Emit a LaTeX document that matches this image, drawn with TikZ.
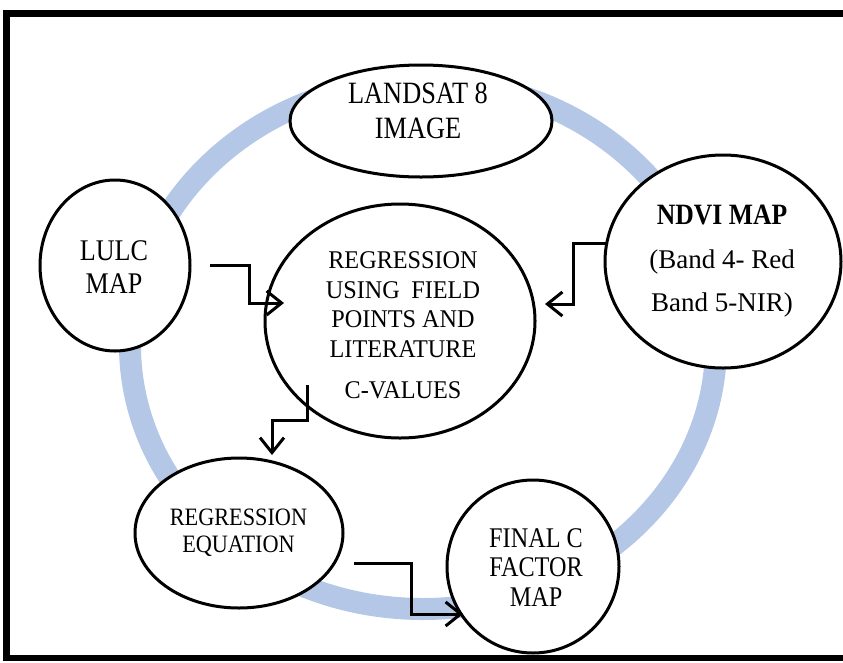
\documentclass[tikz,border=0pt]{standalone}
\usepackage{fontspec}
\setmainfont{Liberation Serif}
\newfontfamily\fA{Liberation Serif}[FakeStretch=0.85]
\newfontfamily\fB{Liberation Serif}[FakeStretch=0.95]
\newfontfamily\fC{Liberation Serif}[FakeStretch=0.89]
\newfontfamily\fD{Liberation Serif}[FakeStretch=0.87]
\usetikzlibrary{shapes.geometric,arrows.meta}
\definecolor{ringblue}{RGB}{180,199,231}
\tikzset{
  ell/.style={ellipse,draw=black,fill=white,line width=3pt,inner sep=0pt},
  txt/.style={anchor=north,inner sep=0pt,align=center,text=black},
  arr/.style={draw=black,line width=3pt,-{Straight Barb[length=15pt,width=24pt]}},
  ringline/.style={draw=ringblue,line width=22pt},
  frameline/.style={draw=black,line width=6.5pt}
}
\begin{document}
\begin{tikzpicture}[x=1pt,y=-1pt]
\useasboundingbox (0,0) rectangle (843,662);
\clip (0,0) rectangle (843,662);
% frame
\draw[frameline] (6.5,13.5) rectangle (860,658);
% blue ring
\draw[ringline] (423,345) ellipse [x radius=293pt, y radius=264pt];
% ellipses
\node[ell,minimum width=262pt,minimum height=112pt] (landsat) at (421,121) {};
\node[ell,minimum width=150pt,minimum height=171pt] (lulc) at (115,265.5) {};
\node[ell,minimum width=236pt,minimum height=213pt] (ndvi) at (723,261.5) {};
\node[ell,minimum width=270pt,minimum height=234pt] (reg) at (400,321) {};
\node[ell,minimum width=208pt,minimum height=150pt] (regeq) at (239,533) {};
\node[ell,minimum width=172pt,minimum height=173pt] (final) at (533,566.5) {};
% texts
\node[txt,font=\fA\fontsize{31}{35}\selectfont] (landsatT) at (418,82.5) {LANDSAT 8\\IMAGE};
\node[txt,font=\fD\fontsize{30}{33}\selectfont] (lulcT) at (114,240) {LULC\\MAP};
\node[txt,font=\fB\fontsize{25.5}{29.7}\selectfont] (regT) at (403,251.5)
  {REGRESSION\\USING\hspace{0.45em}FIELD\\POINTS AND\\LITERATURE\\[11pt]C-VALUES};
\node[txt,font=\fontsize{27}{43.5}\selectfont] (ndviT) at (722,205)
  {{\fD\fontsize{29.5}{43.5}\selectfont\bfseries NDVI MAP}\\(Band 4- Red\\Band 5-NIR)};
\node[txt,font=\fC\fontsize{25}{27}\selectfont] (regeqT) at (238.5,508.5) {REGRESSION\\EQUATION};
\node[txt,font=\fA\fontsize{28.5}{29.5}\selectfont] (finalT) at (536,528) {FINAL C\\FACTOR\\MAP};
% connector end points
\coordinate (lulcOut) at (210,265);
\coordinate (regIn) at (284,303);
\coordinate (ndviOut) at (606,243);
\coordinate (regIn2) at (545,304);
\coordinate (regOut) at (307,385);
\coordinate (regeqIn) at (272,455);
\coordinate (regeqOut) at (354,563);
\coordinate (finalIn) at (463,614);
% connectors
\draw[arr] (lulcOut) -- (249,265) |- (regIn);
\draw[arr] (ndviOut) -- (573,243) |- (regIn2);
\draw[arr] (regOut) -- (307,420) -| (regeqIn);
\draw[arr] (regeqOut) -- (411,563) |- (finalIn);
\end{tikzpicture}
\end{document}
